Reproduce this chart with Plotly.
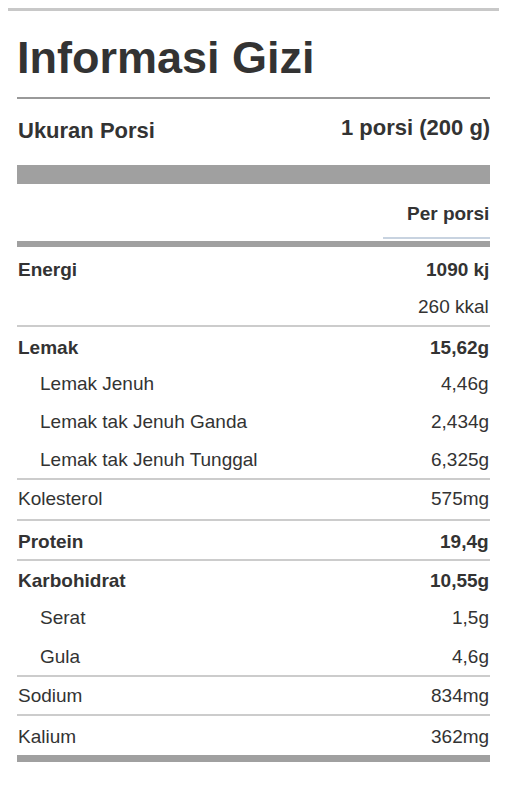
import plotly.graph_objects as go

# nutrition rows
labels = ["Energi", "", "Lemak", "Lemak Jenuh", "Lemak tak Jenuh Ganda",
          "Lemak tak Jenuh Tunggal", "Kolesterol", "Protein", "Karbohidrat",
          "Serat", "Gula", "Sodium", "Kalium"]
values = ["1090 kj", "260 kkal", "15,62g", "4,46g", "2,434g", "6,325g",
          "575mg", "19,4g", "10,55g", "1,5g", "4,6g", "834mg", "362mg"]
bold = [True, False, True, False, False, False, False, True, True,
        False, False, False, False]
indent = [False, False, False, True, True, True, False, False, False,
          True, True, False, False]
row_y = [269, 306, 347, 383, 421, 459, 498, 541, 580, 617, 656, 695, 736]
line_after = [326, 479, 520, 560, 676, 715]

W, H = 507, 799
OFF = 8  # page body margin
L, R = 17, 490
dark = "#333333"
gray = "#a0a0a0"
font = "Liberation Sans, Arial, sans-serif"

fig = go.Figure()
shapes = []
ann = []

def bar(y0, y1, color=gray, x0=L, x1=R):
    shapes.append(dict(type="rect", x0=x0, x1=x1, y0=y0, y1=y1,
                       fillcolor=color, line_width=0, layer="below"))

bar(OFF, OFF + 3, "#c8c8c8", OFF, W + OFF)
bar(97, 99, "#999999")
bar(165, 184)
bar(237, 239, "#c8d3e0", 383, R)
bar(241, 247)
for y in line_after:
    bar(y - 0.5, y + 0.5, "#999999")
bar(755, 762)

def text(x, y, s, size, b=False, anchor="left"):
    ann.append(dict(x=x, y=y, text=f"<b>{s}</b>" if b else s, showarrow=False,
                    xanchor=anchor, yanchor="middle",
                    font=dict(family=font, size=size, color=dark)))

text(L - 2, 57, "Informasi Gizi", 45, True)
text(L - 1, 130, "Ukuran Porsi", 22, True)
text(R + 2, 127, "1 porsi (200 g)", 22, True, "right")
text(R + 1, 213, "Per porsi", 19, True, "right")

for lab, val, b, ind, y in zip(labels, values, bold, indent, row_y):
    if lab:
        text(L - 1 + (22 if ind else 0), y, lab, 19 if b else 19, b)
    text(R + 1, y, val, 19, b, "right")

fig.update_layout(
    width=W, height=H, margin=dict(l=0, r=0, t=0, b=0),
    paper_bgcolor="white", plot_bgcolor="white",
    xaxis=dict(range=[OFF, W + OFF], visible=False, fixedrange=True),
    yaxis=dict(range=[H + OFF, OFF], visible=False, fixedrange=True),
    shapes=shapes, annotations=ann, showlegend=False,
)
fig.write_html("out.html", config={"displayModeBar": False})
